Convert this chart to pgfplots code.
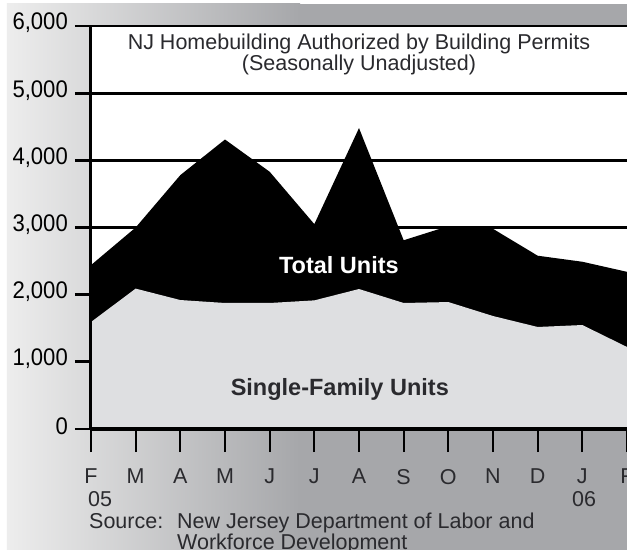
\documentclass[border=0pt]{standalone}
\usepackage{pgfplots}
\pgfplotsset{compat=1.18}
\usepackage{fontspec}
\setmainfont{Liberation Sans}
\newfontfamily\condfont{Liberation Sans}[FakeStretch=0.92]
\definecolor{bgl}{HTML}{EDEDED}
\definecolor{bgr}{HTML}{A6A7AA}
\definecolor{sfgray}{HTML}{DEDFE1}
\definecolor{txt}{HTML}{2A2A2E}
\begin{document}
\begin{tikzpicture}
\path[use as bounding box, fill=white] (-91bp,-121bp) rectangle (536bp,429bp);
\shade[left color=bgl, right color=bgr] (-84bp,-121bp) rectangle (209bp,425bp);
\fill[bgr] (208.5bp,-121bp) rectangle (536bp,425bp);
\begin{axis}[
  at={(0,0)}, anchor=south west,
  scale only axis, width=536bp, height=403bp,
  xmin=0, xmax=12, ymin=0, ymax=6000,
  axis background/.style={fill=white},
  axis x line*=bottom, axis y line*=left,
  axis line style={line width=3bp},
  xtick={0,...,12},
  xticklabels={F,M,A,M,J,J,A,S,O,N,D,J,F},
  ytick={0,1000,2000,3000,4000,5000,6000},
  yticklabels={0,{1,000},{2,000},{3,000},{4,000},{5,000},{6,000}},
  tick align=outside,
  major tick length=23bp,
  tick style={black, line width=2bp},
  y tick style={xshift=7bp, line width=2.7bp},
  ymajorgrids,
  major grid style={black, line width=2.7bp},
  xticklabel style={anchor=north, inner sep=0pt, text=txt, font=\fontsize{21.5bp}{24bp}\selectfont, yshift=-17bp},
  yticklabel style={anchor=east, inner sep=0pt, text=black, font=\condfont\fontsize{24bp}{26bp}\selectfont, yshift=3bp},
  clip=false,
]
\addplot[fill=black, draw=none] coordinates {
 (0,2440) (1,3000) (2,3780) (3,4310) (4,3830) (5,3050) (6,4480)
 (7,2810) (8,3020) (9,2980) (10,2580) (11,2490) (12,2340)} \closedcycle;
\addplot[fill=sfgray, draw=none] coordinates {
 (0,1593) (1,2090) (2,1920) (3,1876) (4,1876) (5,1915) (6,2084)
 (7,1876) (8,1890) (9,1682) (10,1519) (11,1548) (12,1221)} \closedcycle;
\draw[line width=3bp] (axis cs:0,0) -- (axis cs:12,0);
\draw[line width=3bp] (axis cs:0,0) -- (axis cs:0,6000);
\node[anchor=base, inner sep=0pt, text=txt, font=\fontsize{21.5bp}{24bp}\selectfont] at (axis cs:6,5657) {NJ Homebuilding Authorized by Building Permits};
\node[anchor=base, inner sep=0pt, text=txt, font=\fontsize{21.5bp}{24bp}\selectfont] at (axis cs:6,5340) {(Seasonally Unadjusted)};
\node[anchor=base, text=white, font=\bfseries\fontsize{23.5bp}{26bp}\selectfont] at (axis cs:5.55,2322) {Total Units};
\node[anchor=base, text=txt, font=\bfseries\fontsize{23.5bp}{26bp}\selectfont] at (axis cs:5.57,506) {Single-Family Units};
\end{axis}
\node[anchor=base west, inner sep=0pt, text=txt, font=\fontsize{21.5bp}{24bp}\selectfont] at (-3bp,-77bp) {05};
\node[anchor=base, inner sep=0pt, text=txt, font=\fontsize{21.5bp}{24bp}\selectfont] at (493bp,-77bp) {06};
\node[anchor=base west, inner sep=0pt, text=txt, font=\fontsize{21.5bp}{24bp}\selectfont] at (-2bp,-99bp) {Source:};
\node[anchor=base west, inner sep=0pt, text=txt, font=\fontsize{21.5bp}{24bp}\selectfont] at (86bp,-99bp) {New Jersey Department of Labor and};
\node[anchor=base west, inner sep=0pt, text=txt, font=\fontsize{21.5bp}{24bp}\selectfont] at (86bp,-120bp) {Workforce Development};
\end{tikzpicture}
\end{document}
